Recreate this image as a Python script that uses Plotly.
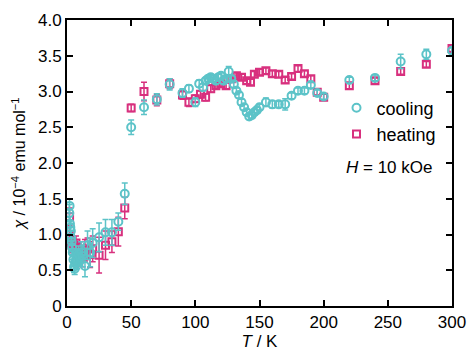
import plotly.graph_objects as go

# ---- data ----
cool_T = [1.8, 2.0, 2.3, 2.6, 3.0, 3.3, 3.6, 4.0, 4.5, 5.0, 5.5, 6.0, 6.5, 7.0, 7.5, 8.0, 9.0, 10, 11, 12,
          14, 16, 18, 20, 25, 30, 35, 40, 45, 50, 60, 70, 80, 90, 95, 100, 103, 106, 108, 110, 112, 114,
          116, 118, 120, 122, 124, 126, 128, 130, 132, 134, 136, 138, 140, 142, 144, 146, 148, 150, 155,
          160, 165, 170, 175, 180, 185, 190, 195, 200, 220, 240, 260, 280, 300]
cool_chi = [1.30, 1.40, 1.15, 1.10, 1.05, 0.95, 0.90, 0.82, 0.75, 0.65, 0.55, 0.52, 0.60, 0.65, 0.70, 0.62,
            0.72, 0.68, 0.75, 0.70, 0.56, 0.85, 0.75, 0.88, 0.96, 1.03, 1.03, 1.18, 1.57, 2.50, 2.78, 2.89,
            3.10, 2.98, 3.04, 2.85, 3.11, 3.06, 3.15, 3.18, 3.20, 3.18, 3.15, 3.20, 3.22, 3.15, 3.18, 3.28,
            3.18, 3.10, 3.01, 2.95, 2.85, 2.78, 2.71, 2.65, 2.67, 2.71, 2.74, 2.78, 2.85, 2.82, 2.82, 2.82,
            2.94, 3.01, 3.01, 3.09, 2.98, 2.93, 3.16, 3.19, 3.42, 3.52, 3.57]
cool_err = [0.12, 0.10, 0.10, 0.10, 0.10, 0.10, 0.10, 0.10, 0.10, 0.10, 0.08, 0.08, 0.08, 0.10, 0.10, 0.10,
            0.12, 0.12, 0.15, 0.15, 0.15, 0.20, 0.20, 0.20, 0.20, 0.18, 0.18, 0.12, 0.15, 0.10, 0.10, 0.08,
            0.08, 0.06, 0.05, 0.06, 0.05, 0.05, 0.04, 0.04, 0.04, 0.04, 0.04, 0.04, 0.04, 0.04, 0.04, 0.07,
            0.04, 0.04, 0.04, 0.04, 0.04, 0.04, 0.04, 0.04, 0.04, 0.04, 0.04, 0.04, 0.06, 0.05, 0.04, 0.08,
            0.04, 0.04, 0.04, 0.04, 0.04, 0.04, 0.04, 0.04, 0.10, 0.07, 0.04]

heat_T = [1.8, 2.0, 2.5, 3.0, 3.5, 4, 5, 6, 7, 8, 9, 10, 12, 14, 16, 18, 20, 25, 30, 35, 40, 45, 50, 60,
          70, 80, 90, 95, 100, 104, 108, 112, 116, 120, 124, 128, 132, 136, 140, 143, 146, 150, 155, 160,
          165, 170, 175, 180, 185, 190, 195, 200, 220, 240, 260, 280, 300]
heat_chi = [1.00, 1.25, 0.95, 0.90, 0.88, 0.85, 0.80, 0.82, 0.88, 0.80, 0.75, 0.78, 0.70, 0.78, 0.80, 0.72,
            0.80, 0.71, 0.85, 0.90, 1.04, 1.37, 2.77, 3.00, 2.88, 3.11, 2.95, 2.85, 2.90, 2.96, 2.92, 3.04,
            3.08, 3.11, 3.08, 3.18, 3.22, 3.20, 3.15, 3.13, 3.24, 3.27, 3.29, 3.25, 3.24, 3.16, 3.21, 3.32,
            3.25, 3.18, 2.99, 2.92, 3.08, 3.15, 3.28, 3.38, 3.60]
heat_err = [0.10, 0.12, 0.10, 0.10, 0.10, 0.10, 0.10, 0.10, 0.10, 0.10, 0.12, 0.12, 0.15, 0.15, 0.15, 0.18,
            0.18, 0.25, 0.20, 0.15, 0.20, 0.15, 0.05, 0.13, 0.08, 0.07, 0.06, 0.06, 0.05, 0.05, 0.05, 0.05,
            0.04, 0.04, 0.04, 0.04, 0.04, 0.04, 0.04, 0.04, 0.04, 0.04, 0.04, 0.04, 0.04, 0.04, 0.04, 0.04,
            0.04, 0.04, 0.04, 0.04, 0.04, 0.04, 0.04, 0.04, 0.04]

x_ticks = [0, 50, 100, 150, 200, 250, 300]
y_ticks = [0, 0.5, 1.0, 1.5, 2.0, 2.5, 3.0, 3.5, 4.0]
y_ticklabels = ["0", "0.5", "1.0", "1.5", "2.0", "2.5", "3.0", "3.5", "4.0"]

CYAN = "#5cc3c8"
PINK = "#d8307e"
FONT = "Arial, Liberation Sans, sans-serif"

fig = go.Figure()
fig.add_trace(go.Scatter(
    x=heat_T, y=heat_chi, mode="markers", name="heating",
    error_y=dict(type="data", array=heat_err, color=PINK, thickness=1.5, width=3),
    marker=dict(symbol="square-open", size=7, color=PINK, line=dict(width=2, color=PINK)),
))
fig.add_trace(go.Scatter(
    x=cool_T, y=cool_chi, mode="markers", name="cooling",
    error_y=dict(type="data", array=cool_err, color=CYAN, thickness=1.5, width=3),
    marker=dict(symbol="circle-open", size=8, color=CYAN, line=dict(width=2, color=CYAN)),
))

axis_common = dict(
    showline=True, linecolor="black", linewidth=2, mirror="ticks",
    ticks="inside", ticklen=6, tickwidth=2, tickcolor="black",
    showgrid=False, zeroline=False, automargin=False,
    tickfont=dict(family=FONT, size=17, color="black"),
)

fig.update_xaxes(range=[0, 300], tickvals=x_ticks,
                 title=dict(text="<i>T</i> / K", font=dict(family=FONT, size=17, color="black"), standoff=2),
                 **axis_common)
fig.update_yaxes(range=[0, 4.0], tickvals=y_ticks, ticktext=y_ticklabels,
                 title=dict(text="<i>χ</i> / 10<sup>−4</sup> emu mol<sup>−1</sup>",
                            font=dict(family=FONT, size=16, color="black"), standoff=8),
                 **axis_common)

fig.add_annotation(
    x=0.953, y=0.483, xref="paper", yref="paper", xanchor="right", yanchor="middle",
    text="<i>H</i> = 10 kOe", showarrow=False, font=dict(family=FONT, size=17, color="black"),
)

# page body has an 8px default margin; figure offset accounted for in the margins
fig.update_layout(
    width=467, height=343,
    margin=dict(l=59, r=23, t=12, b=45),
    plot_bgcolor="white", paper_bgcolor="white",
    showlegend=True,
    legend=dict(x=0.70, y=0.757, xanchor="left", yanchor="top", traceorder="reversed",
                font=dict(family=FONT, size=18, color="black"), bgcolor="rgba(0,0,0,0)",
                itemwidth=30, tracegroupgap=0),
)

fig.write_html("out.html")
